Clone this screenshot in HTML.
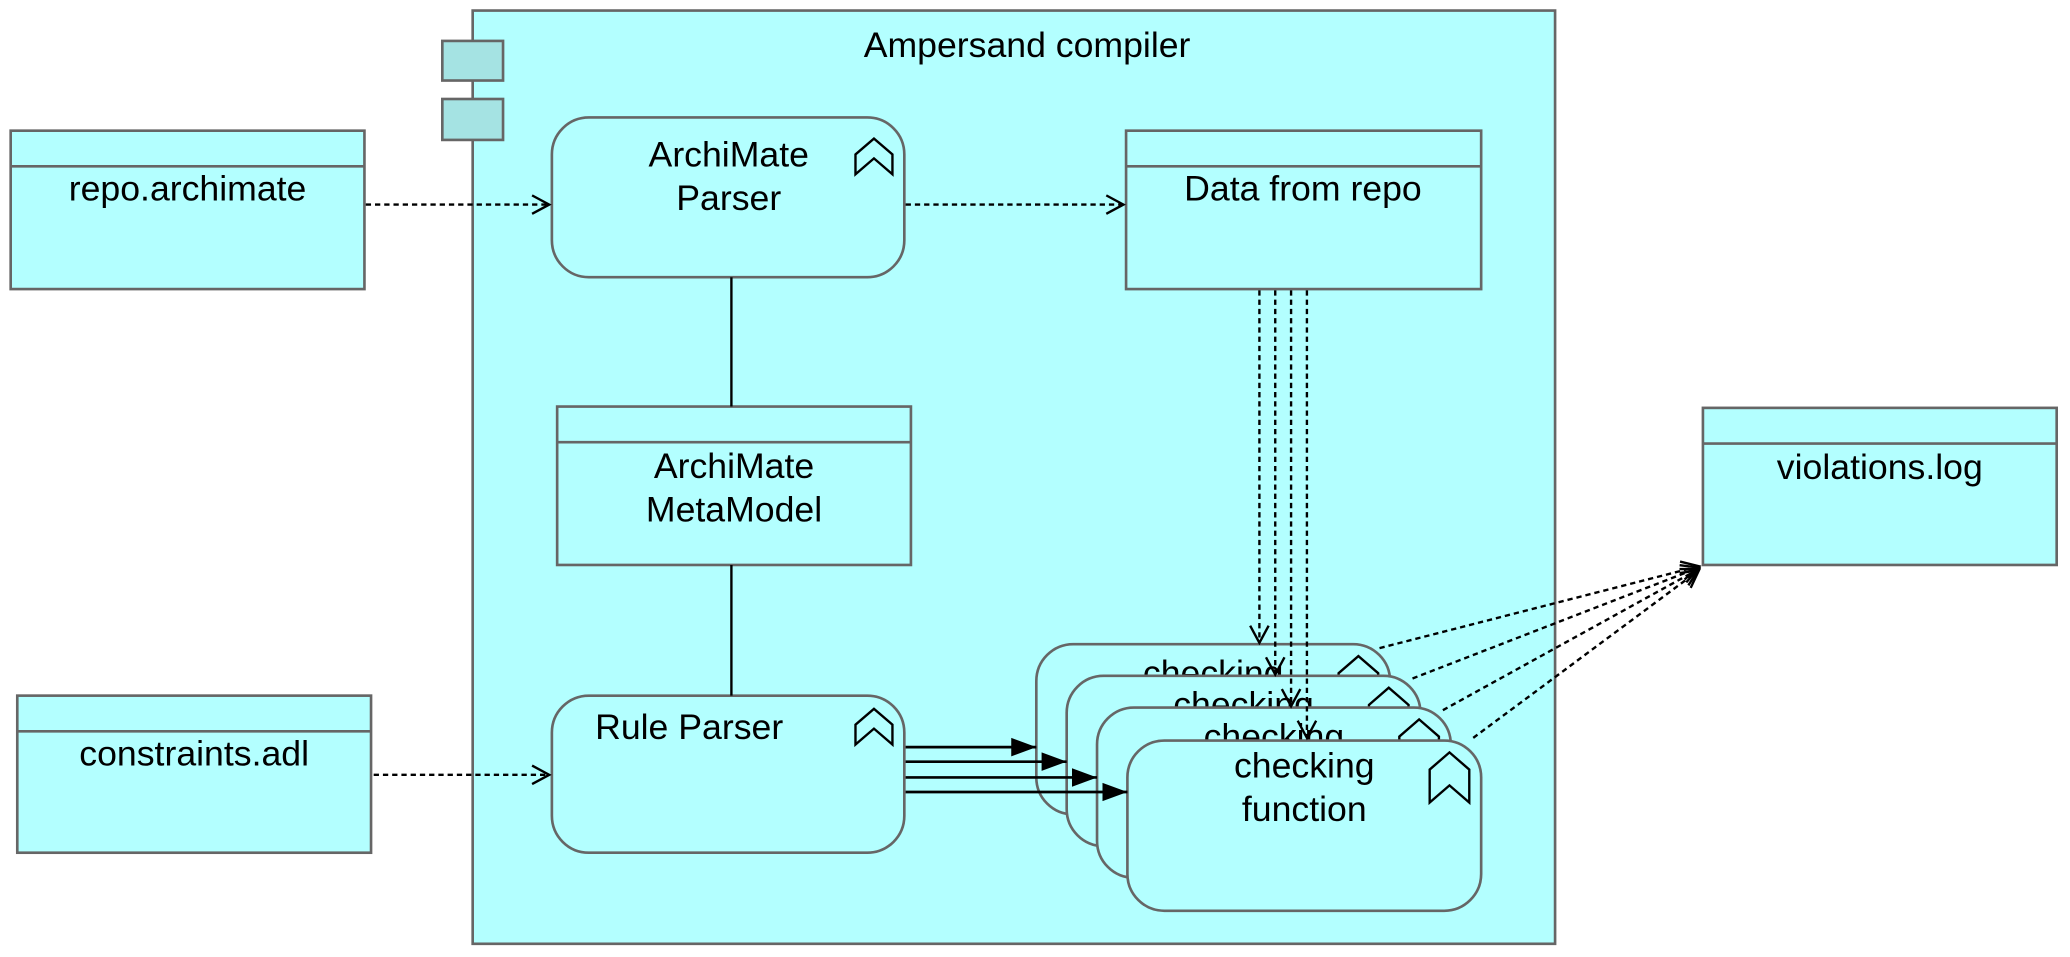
<!DOCTYPE html>
<html><head><meta charset="utf-8"><style>html,body{margin:0;padding:0;background:#fff}svg{display:block}</style></head>
<body>
<svg width="2070" height="957" viewBox="0 0 1568 725" xmlns="http://www.w3.org/2000/svg" font-family="Liberation Sans, DejaVu Sans, sans-serif" font-size="27">
<defs>
<marker id="open" markerWidth="16" markerHeight="18" refX="14" refY="9" orient="auto" markerUnits="userSpaceOnUse"><path d="M1,2 L14,9 L1,16" fill="none" stroke="#000" stroke-width="1.8"/></marker>
<marker id="fill" markerWidth="20" markerHeight="16" refX="19" refY="8" orient="auto" markerUnits="userSpaceOnUse"><path d="M0,1 L19,8 L0,15 Z" fill="#000"/></marker>
</defs>
<g stroke="#666" stroke-width="2" fill="#b3ffff">
<rect x="358" y="8" width="820" height="707"/>
<rect x="335" y="31" width="46" height="30" fill="#a5e3e3"/>
<rect x="335" y="75" width="46" height="31" fill="#a5e3e3"/>
<rect x="8" y="99" width="268" height="120"/><line x1="8" y1="126" x2="276" y2="126"/>
<rect x="13" y="527" width="268" height="119"/><line x1="13" y1="554" x2="281" y2="554"/>
<rect x="853" y="99" width="269" height="120"/><line x1="853" y1="126" x2="1122" y2="126"/>
<rect x="422" y="308" width="268" height="120"/><line x1="422" y1="335" x2="690" y2="335"/>
<rect x="1290" y="309" width="268" height="119"/><line x1="1290" y1="336" x2="1558" y2="336"/>
<rect x="418" y="89" width="267" height="121" rx="28"/>
<rect x="418" y="527" width="267" height="119" rx="28"/>
</g>
<g fill="#000" text-anchor="middle">
<text x="778" y="43">Ampersand compiler</text>
<text x="142" y="152">repo.archimate</text>
<text x="147" y="580">constraints.adl</text>
<text x="987" y="152">Data from repo</text>
<text x="556" y="362">ArchiMate</text><text x="556" y="395">MetaModel</text>
<text x="1424" y="363">violations.log</text>
<text x="552" y="126">ArchiMate</text><text x="552" y="159">Parser</text>
<text x="522" y="560">Rule Parser</text>
</g>
<g fill="none" stroke="#000" stroke-width="1.8">
<polygon points="648,117 662,105 676,117 676,132 662,120 648,132"/>
<polygon points="648,549 662,537 676,549 676,564 662,552 648,564"/>
<line x1="554" y1="210" x2="554" y2="308"/>
<line x1="554" y1="428" x2="554" y2="527"/>
</g>
<g>
<g transform="translate(785,488)"><rect width="268" height="129" rx="28" fill="#b3ffff" stroke="#666" stroke-width="2"/><text x="134" y="31" text-anchor="middle">checking</text><polygon points="229,22 244,9 259,22 259,47 244,34 229,47" fill="none" stroke="#000" stroke-width="1.8"/></g>
<g transform="translate(808,512)"><rect width="268" height="129" rx="28" fill="#b3ffff" stroke="#666" stroke-width="2"/><text x="134" y="31" text-anchor="middle">checking</text><polygon points="229,22 244,9 259,22 259,47 244,34 229,47" fill="none" stroke="#000" stroke-width="1.8"/></g>
<g transform="translate(831,536)"><rect width="268" height="129" rx="28" fill="#b3ffff" stroke="#666" stroke-width="2"/><text x="134" y="31" text-anchor="middle">checking</text><polygon points="229,22 244,9 259,22 259,47 244,34 229,47" fill="none" stroke="#000" stroke-width="1.8"/></g>
<g transform="translate(854,561)"><rect width="268" height="129" rx="28" fill="#b3ffff" stroke="#666" stroke-width="2"/><text x="134" y="28" text-anchor="middle">checking</text><text x="134" y="61" text-anchor="middle">function</text><polygon points="229,22 244,9 259,22 259,47 244,34 229,47" fill="none" stroke="#000" stroke-width="1.8"/></g>
</g>
<g fill="none" stroke="#000" stroke-width="1.8" stroke-dasharray="4,3">
<line x1="277" y1="155" x2="416" y2="155" marker-end="url(#open)"/>
<line x1="686" y1="155" x2="851" y2="155" marker-end="url(#open)"/>
<line x1="283" y1="587" x2="416" y2="587" marker-end="url(#open)"/>
<line x1="954" y1="220" x2="954" y2="487" marker-end="url(#open)"/>
<line x1="966" y1="220" x2="966" y2="511" marker-end="url(#open)"/>
<line x1="978" y1="220" x2="978" y2="535" marker-end="url(#open)"/>
<line x1="990" y1="220" x2="990" y2="559" marker-end="url(#open)"/>
<line x1="1045" y1="491" x2="1287" y2="429" marker-end="url(#open)"/>
<line x1="1070" y1="514" x2="1287" y2="430" marker-end="url(#open)"/>
<line x1="1093" y1="538" x2="1287" y2="431" marker-end="url(#open)"/>
<line x1="1116" y1="559" x2="1287" y2="432" marker-end="url(#open)"/>
</g>
<g stroke="#000" stroke-width="2">
<line x1="686" y1="566" x2="785" y2="566" marker-end="url(#fill)"/>
<line x1="686" y1="577" x2="808" y2="577" marker-end="url(#fill)"/>
<line x1="686" y1="589" x2="831" y2="589" marker-end="url(#fill)"/>
<line x1="686" y1="600" x2="854" y2="600" marker-end="url(#fill)"/>
</g>
</svg>
</body></html>
